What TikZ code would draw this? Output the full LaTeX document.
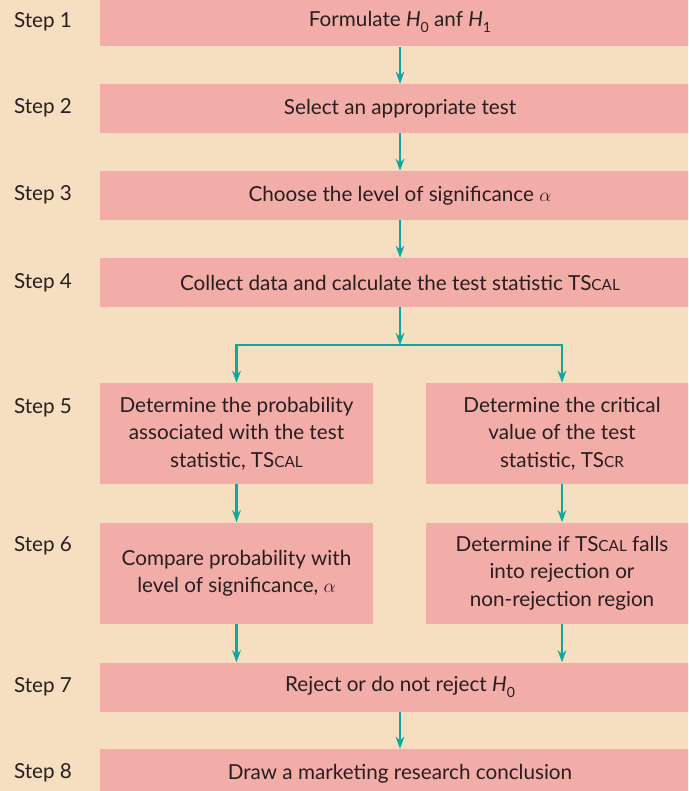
\documentclass[tikz,border=0pt]{standalone}
\usepackage{fontspec}
\setmainfont{Lato}
\usetikzlibrary{arrows.meta}
\definecolor{bgcol}{RGB}{246,223,192}
\definecolor{boxcol}{RGB}{242,173,169}
\definecolor{flowcol}{RGB}{18,166,160}
\definecolor{inkcol}{RGB}{40,30,30}
\newcommand{\smallcap}[1]{{\fontsize{11.5}{11.5}\selectfont #1}}
\newcommand{\hyp}[1]{\textit{H}\raisebox{-.55ex}{\fontsize{10.5}{10.5}\selectfont #1}}

\begin{document}
\begin{tikzpicture}[x=.75pt,y=-.75pt,>={Stealth[length=9pt,width=6.5pt]},
  font=\fontsize{15.5}{20.5}\selectfont,
  stepbox/.style={fill=boxcol,text=inkcol,inner sep=0pt,align=center},
  widebox/.style={stepbox,minimum width=450pt,minimum height=36.75pt},
  halfbox/.style={stepbox,minimum width=204.75pt,minimum height=75.75pt},
  steplabel/.style={text=inkcol},
  flow/.style={flowcol,line width=1.6pt,->}]
\useasboundingbox (0,0) rectangle (688,791);
\clip (0,0) rectangle (688,791);
\fill[bgcol] (0,0) rectangle (688,791);
% step labels
\node[steplabel] (s1) at (43,22) {Step 1};
\node[steplabel] (s2) at (43,108) {Step 2};
\node[steplabel] (s3) at (43,195) {Step 3};
\node[steplabel] (s4) at (43,283) {Step 4};
\node[steplabel] (s5) at (43,408) {Step 5};
\node[steplabel] (s6) at (43,546) {Step 6};
\node[steplabel] (s7) at (43,687) {Step 7};
\node[steplabel] (s8) at (43,773) {Step 8};
% boxes
\node[widebox] (b1) at (400,22) {Formulate \hyp{0} anf \hyp{1}};
\node[widebox] (b2) at (400,108.5) {Select an appropriate test};
\node[widebox] (b3) at (400,195.5) {Choose the level of significance $\alpha$};
\node[widebox] (b4) at (400,282.5) {Collect data and calculate the test statistic TS\smallcap{CAL}};
\node[halfbox] (b5l) at (236.5,433.5) {Determine the probability\\associated with the test\\statistic, TS\smallcap{CAL}};
\node[halfbox,minimum width=204pt] (b5r) at (562,433.5) {Determine the critical\\value of the test\\statistic, TS\smallcap{CR}};
\node[halfbox] (b6l) at (236.5,573) {Compare probability with\\level of significance, $\alpha$};
\node[halfbox,minimum width=204pt] (b6r) at (562,573) {Determine if TS\smallcap{CAL} falls\\into rejection or\\non-rejection region};
\node[widebox] (b7) at (400,687) {Reject or do not reject \hyp{0}};
\node[widebox] (b8) at (400,773.5) {Draw a marketing research conclusion};
% connectors
\coordinate (split) at (400,345);
\draw[flow] (b1) -- (b2);
\draw[flow] (b2) -- (b3);
\draw[flow] (b3) -- (b4);
\draw[flow] (b4) -- (split);
\draw[flow] (split) -| (b5l);
\draw[flow] (split) -| (b5r);
\draw[flow] (b5l) -- (b6l);
\draw[flow] (b5r) -- (b6r);
\draw[flow] (b6l.south) -- (b6l.south |- b7.north);
\draw[flow] (b6r.south) -- (b6r.south |- b7.north);
\draw[flow] (b7) -- (b8);
\end{tikzpicture}
\end{document}
